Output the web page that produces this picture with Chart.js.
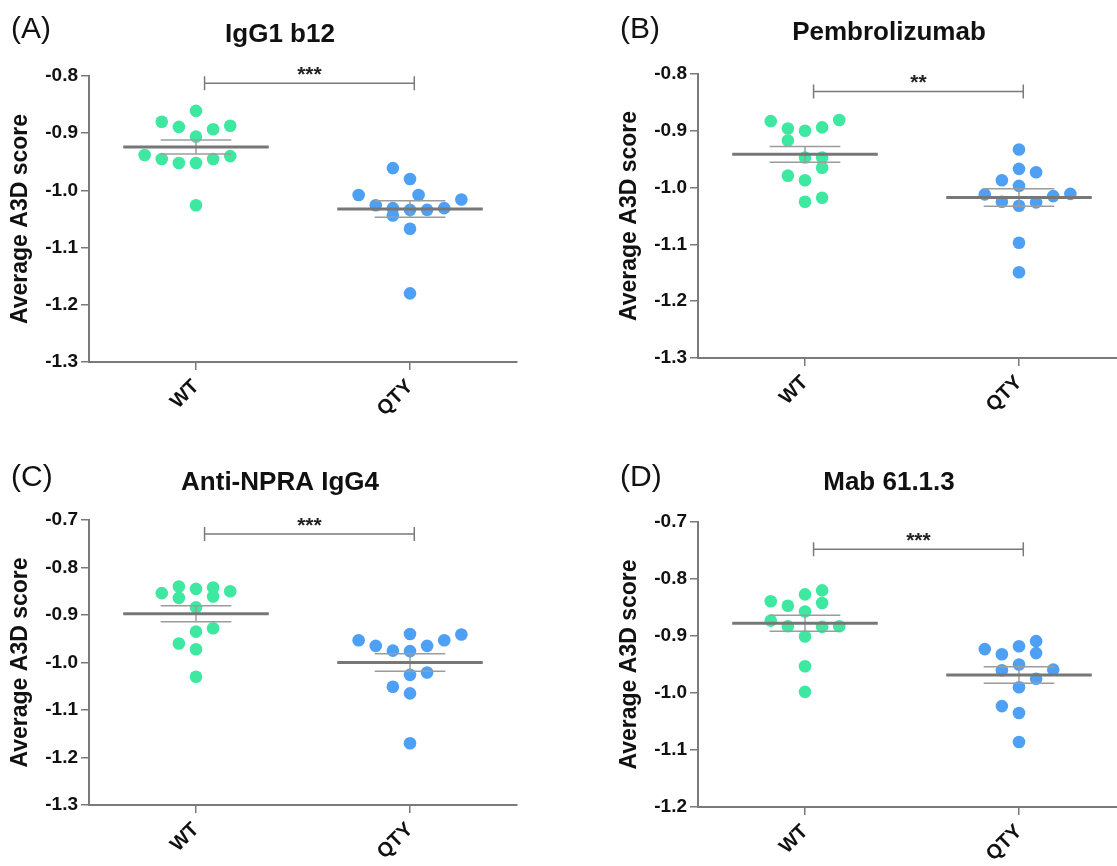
<!DOCTYPE html>
<html>
<head>
<meta charset="utf-8">
<script src="https://cdn.jsdelivr.net/npm/chart.js@4.4.0/dist/chart.umd.min.js"></script>
<style>
  body { margin: 0; width: 1117px; height: 866px; overflow: hidden; background: #fff; position: relative; }
  .panel { position: absolute; width: 558px; height: 433px; }
</style>
</head>
<body>
<div class="panel" style="left:0;top:0"><canvas id="chartA" width="558" height="433"></canvas></div>
<div class="panel" style="left:609px;top:0"><canvas id="chartB" width="558" height="433"></canvas></div>
<div class="panel" style="left:0;top:433px"><canvas id="chartC" width="558" height="433"></canvas></div>
<div class="panel" style="left:609px;top:433px"><canvas id="chartD" width="558" height="433"></canvas></div>
<script>
const groups = ['WT', 'QTY'];

// (A) IgG1 b12
const iggWT = [-0.861, -0.880, -0.889, -0.893, -0.887, -0.906, -0.938, -0.945, -0.952, -0.952, -0.945, -0.940, -1.026];
const iggWTSlot = [0, -2, -1, 1, 2, 0, -3, -2, -1, 0, 1, 2, 0];
const iggQTY = [-0.961, -0.980, -1.008, -1.008, -1.016, -1.026, -1.031, -1.034, -1.034, -1.031, -1.044, -1.067, -1.180];
const iggQTYSlot = [-1, 0, -3, 0.5, 3, -2, -1, 0, 1, 2, -1, 0, 0];

// (B) Pembrolizumab
const pemWT = [-0.883, -0.896, -0.900, -0.894, -0.881, -0.917, -0.947, -0.947, -0.965, -0.979, -0.987, -1.025, -1.018];
const pemWTSlot = [-2, -1, 0, 1, 2, -1, 0, 1, 1, -1, 0, 0, 1];
const pemQTY = [-0.933, -0.967, -0.973, -0.987, -0.997, -1.012, -1.011, -1.015, -1.025, -1.026, -1.032, -1.097, -1.149];
const pemQTYSlot = [0, 0, 1, -1, 0, -2, 3, 2, -1, 1, 0, 0, 0];

// (C) Anti-NPRA IgG4
const npraWT = [-0.854, -0.840, -0.845, -0.842, -0.850, -0.864, -0.861, -0.884, -0.935, -0.928, -0.960, -0.972, -1.030];
const npraWTSlot = [-2, -1, 0, 1, 2, -1, 1, 0, 0, 1, -1, 0, 0];
const npraQTY = [-0.940, -0.941, -0.953, -0.953, -0.965, -0.965, -0.975, -0.976, -1.026, -1.021, -1.051, -1.065, -1.170];
const npraQTYSlot = [0, 3, -3, 2, -2, 1, -1, 0, 0, 1, -1, 0, 0];

// (D) Mab 61.1.3
const mabWT = [-0.820, -0.827, -0.839, -0.847, -0.842, -0.857, -0.873, -0.883, -0.884, -0.883, -0.901, -0.953, -0.998];
const mabWTSlot = [1, 0, -2, -1, 1, 0, -2, -1, 1, 2, 0, 0, 0];
const mabQTY = [-0.909, -0.923, -0.918, -0.932, -0.930, -0.950, -0.960, -0.959, -0.975, -0.990, -1.023, -1.035, -1.086];
const mabQTYSlot = [1, -2, 0, -1, 1, 0, -1, 2, 1, 0, -1, 0, 0];

const ticksAB = [-0.8, -0.9, -1.0, -1.1, -1.2, -1.3];
const ticksC = [-0.7, -0.8, -0.9, -1.0, -1.1, -1.2, -1.3];
const ticksD = [-0.7, -0.8, -0.9, -1.0, -1.1, -1.2];

const bracketLevels = [-0.8128, -0.831, -0.7295, -0.748];
const bracketStars = ['***', '**', '***', '***'];

const panels = [
  { id: 'chartA', letter: '(A)', title: 'IgG1 b12', wt: iggWT, wtSlot: iggWTSlot, qty: iggQTY, qtySlot: iggQTYSlot, ticks: ticksAB, plotTop: 76, plotBottom: 362, titleY: 35, letterY: 30 },
  { id: 'chartB', letter: '(B)', title: 'Pembrolizumab', wt: pemWT, wtSlot: pemWTSlot, qty: pemQTY, qtySlot: pemQTYSlot, ticks: ticksAB, plotTop: 74, plotBottom: 358, titleY: 33, letterY: 30 },
  { id: 'chartC', letter: '(C)', title: 'Anti-NPRA IgG4', wt: npraWT, wtSlot: npraWTSlot, qty: npraQTY, qtySlot: npraQTYSlot, ticks: ticksC, plotTop: 87, plotBottom: 372, titleY: 50, letterY: 45 },
  { id: 'chartD', letter: '(D)', title: 'Mab 61.1.3', wt: mabWT, wtSlot: mabWTSlot, qty: mabQTY, qtySlot: mabQTYSlot, ticks: ticksD, plotTop: 89, plotBottom: 374, titleY: 50, letterY: 45 }
];

const GREEN = 'rgb(62, 232, 160)';
const BLUE = 'rgb(78, 160, 245)';
const AXIS = '#7a7a7a';
const JITTER = 0.08;
const MEAN_HALF = 0.34;
const CAP_HALF = 0.165;

Chart.defaults.font.family = '"Liberation Sans", Arial, sans-serif';
Chart.defaults.color = '#111';

function stats(values) {
  const n = values.length;
  const mean = values.reduce((a, b) => a + b, 0) / n;
  const sd = Math.sqrt(values.reduce((a, b) => a + (b - mean) * (b - mean), 0) / (n - 1));
  return { mean, sem: sd / Math.sqrt(n) };
}

function segment(x1, y1, x2, y2, color, width) {
  return {
    type: 'line',
    data: [{ x: x1, y: y1 }, { x: x2, y: y2 }],
    borderColor: color,
    borderWidth: width,
    pointRadius: 0,
    pointHoverRadius: 0,
    showLine: true,
    fill: false,
    order: 1
  };
}

function summaryLines(values, center) {
  const s = stats(values);
  return [
    segment(center - MEAN_HALF, s.mean, center + MEAN_HALF, s.mean, '#777777', 3),
    segment(center - CAP_HALF, s.mean + s.sem, center + CAP_HALF, s.mean + s.sem, '#9c9c9c', 1.5),
    segment(center - CAP_HALF, s.mean - s.sem, center + CAP_HALF, s.mean - s.sem, '#9c9c9c', 1.5),
    segment(center, s.mean - s.sem, center, s.mean + s.sem, '#9c9c9c', 1.5)
  ];
}

const panelText = {
  id: 'panelText',
  afterDraw(chart, args, opts) {
    const ctx = chart.ctx;
    ctx.save();
    ctx.fillStyle = '#111';
    ctx.textBaseline = 'middle';
    ctx.textAlign = 'left';
    ctx.font = '30px "Liberation Sans", Arial, sans-serif';
    ctx.fillText(opts.letter, 11, opts.letterY);
    ctx.textAlign = 'center';
    ctx.font = 'bold 26px "Liberation Sans", Arial, sans-serif';
    ctx.fillText(opts.title, 280, opts.titleY);
    ctx.restore();
  }
};

const bracket = {
  id: 'bracket',
  afterDatasetsDraw(chart, args, opts) {
    const { ctx, scales: { x, y } } = chart;
    const x1 = x.getPixelForValue(1.04);
    const x2 = x.getPixelForValue(2.02);
    const yy = y.getPixelForValue(opts.level);
    ctx.save();
    ctx.strokeStyle = AXIS;
    ctx.lineWidth = 1.5;
    ctx.beginPath();
    ctx.moveTo(x1, yy); ctx.lineTo(x2, yy);
    ctx.moveTo(x1, yy - 7); ctx.lineTo(x1, yy + 7);
    ctx.moveTo(x2, yy - 7); ctx.lineTo(x2, yy + 7);
    ctx.stroke();
    ctx.fillStyle = '#222';
    ctx.textAlign = 'center';
    ctx.textBaseline = 'middle';
    ctx.font = 'bold 21px "Liberation Sans", Arial, sans-serif';
    ctx.fillText(opts.stars, (x1 + x2) / 2, yy - 8);
    ctx.restore();
  }
};

panels.forEach((p, i) => {
  const wtPoints = p.wt.map((v, k) => ({ x: 1 + p.wtSlot[k] * JITTER, y: v }));
  const qtyPoints = p.qty.map((v, k) => ({ x: 2 + p.qtySlot[k] * JITTER, y: v }));

  new Chart(document.getElementById(p.id), {
    type: 'scatter',
    data: {
      datasets: [
        ...summaryLines(p.wt, 1),
        ...summaryLines(p.qty, 2),
        { data: wtPoints, backgroundColor: GREEN, borderWidth: 0, pointRadius: 6.3, pointHoverRadius: 6.3, order: 2 },
        { data: qtyPoints, backgroundColor: BLUE, borderWidth: 0, pointRadius: 6.3, pointHoverRadius: 6.3, order: 2 }
      ]
    },
    options: {
      responsive: false,
      animation: false,
      layout: { padding: { left: 0, right: 41, top: p.plotTop, bottom: 0 } },
      plugins: {
        legend: { display: false },
        tooltip: { enabled: false },
        panelText: { letter: p.letter, title: p.title, letterY: p.letterY, titleY: p.titleY },
        bracket: { level: bracketLevels[i], stars: bracketStars[i] }
      },
      scales: {
        x: {
          type: 'linear',
          min: 0.5,
          max: 2.5,
          afterBuildTicks: (scale) => { scale.ticks = [{ value: 1 }, { value: 2 }]; },
          afterFit: (scale) => { scale.height = 433 - p.plotBottom; },
          border: { display: true, color: AXIS, width: 2 },
          grid: { drawOnChartArea: false, drawTicks: true, tickLength: 8, color: AXIS, lineWidth: 1.5 },
          ticks: {
            autoSkip: false,
            minRotation: 45,
            maxRotation: 45,
            padding: 5,
            color: '#111',
            font: { size: 20, weight: 'bold' },
            callback: (v) => groups[Math.round(v) - 1]
          }
        },
        y: {
          type: 'linear',
          min: p.ticks[p.ticks.length - 1],
          max: p.ticks[0],
          afterBuildTicks: (scale) => { scale.ticks = p.ticks.map(v => ({ value: v })); },
          afterFit: (scale) => { scale.width = 89; },
          border: { display: true, color: AXIS, width: 2 },
          grid: { drawOnChartArea: false, drawTicks: true, tickLength: 8, color: AXIS, lineWidth: 1.5 },
          title: {
            display: true,
            text: 'Average A3D score',
            color: '#111',
            font: { size: 23, weight: 'bold' },
            padding: { top: 7, bottom: 0 }
          },
          ticks: {
            padding: 3,
            color: '#111',
            font: { size: 19, weight: 'bold' },
            callback: (v) => v.toFixed(1)
          }
        }
      }
    },
    plugins: [panelText, bracket]
  });
});
</script>
</body>
</html>
